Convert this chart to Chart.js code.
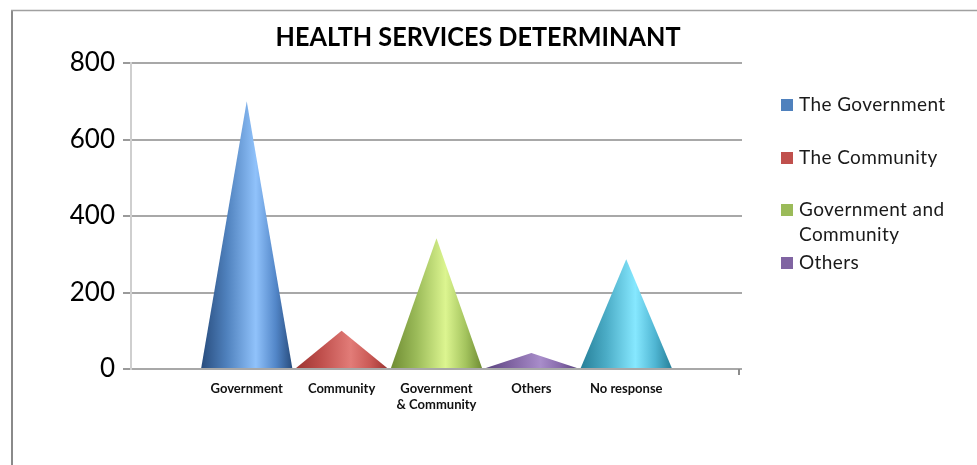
<!DOCTYPE html>
<html>
<head>
<meta charset="utf-8">
<script src="https://cdn.jsdelivr.net/npm/chart.js@4/dist/chart.umd.min.js"></script>
<style>
  html, body { margin: 0; padding: 0; background: #fff; }
  canvas { display: block; }
</style>
</head>
<body>
<canvas id="chart" width="977" height="465"></canvas>
<script>
// Who determines health services: number of respondents per answer
const chartTitle = 'HEALTH SERVICES DETERMINANT';
const categories = ['Government', 'Community', ['Government', '& Community'], 'Others', 'No response'];
const responses = [700, 100, 342, 42, 287];
const legendLabels = [['The Government'], ['The Community'], ['Government and', 'Community'], ['Others']];
const yTicks = [0, 200, 400, 600, 800];

// Cone shading per category: dark edge, body, highlight, right side
const coneShades = [
  ['#284c7d', '#4f81bd', '#90c2fb', '#5286c8'],
  ['#9c3431', '#c0504d', '#e27c78', '#c95854'],
  ['#6f8c33', '#9bbb59', '#dcf590', '#a4c45e'],
  ['#5a4480', '#8064a2', '#a88dca', '#8669aa'],
  ['#267f98', '#4bacc6', '#86e8ff', '#4fb5d2']
];
const legendColors = ['#4f81bd', '#c0504d', '#9bbb59', '#8064a2'];

const FONT = 'Lato, "Open Sans", sans-serif';

// Draws each bar as a shaded cone from its base to its value
const conePlugin = {
  id: 'cones',
  afterDatasetsDraw(chart) {
    const ctx = chart.ctx;
    const meta = chart.getDatasetMeta(0);
    meta.data.forEach((bar, i) => {
      const { x, y, base, width } = bar.getProps(['x', 'y', 'base', 'width'], true);
      const half = width / 2;
      const s = coneShades[i];
      const g = ctx.createLinearGradient(x - half, 0, x + half, 0);
      g.addColorStop(0, s[0]);
      g.addColorStop(0.28, s[1]);
      g.addColorStop(0.6, s[2]);
      g.addColorStop(0.82, s[3]);
      g.addColorStop(1, s[0]);
      ctx.save();
      ctx.fillStyle = g;
      ctx.beginPath();
      ctx.moveTo(x - half, base);
      ctx.lineTo(x, y);
      ctx.lineTo(x + half, base);
      ctx.closePath();
      ctx.fill();
      ctx.restore();
    });
  }
};

// Frame, title, floor tick and legend
const decorPlugin = {
  id: 'decor',
  beforeDraw(chart) {
    const ctx = chart.ctx;
    ctx.save();
    ctx.fillStyle = '#fff';
    ctx.fillRect(0, 0, chart.width, chart.height);
    ctx.strokeStyle = '#8a8a8a';
    ctx.lineWidth = 2;
    ctx.beginPath();
    ctx.moveTo(12, 10);
    ctx.lineTo(12, chart.height);
    ctx.stroke();
    ctx.strokeStyle = '#a0a0a0';
    ctx.lineWidth = 1.5;
    ctx.beginPath();
    ctx.moveTo(11, 10.5);
    ctx.lineTo(chart.width, 10.5);
    ctx.stroke();
    ctx.restore();
  },
  afterDraw(chart) {
    const ctx = chart.ctx;
    const area = chart.chartArea;
    ctx.save();
    // title
    ctx.fillStyle = '#000';
    ctx.font = 'bold 27px ' + FONT;
    ctx.textAlign = 'center';
    ctx.textBaseline = 'middle';
    ctx.fillText(chartTitle, 478, 37, 405);

    // small tick at the right end of the floor
    ctx.strokeStyle = '#8c8c8c';
    ctx.lineWidth = 2;
    ctx.beginPath();
    ctx.moveTo(area.right - 3, area.bottom);
    ctx.lineTo(area.right - 3, area.bottom + 6);
    ctx.stroke();

    // legend
    const rows = [105, 158, 210, 263];
    ctx.font = '19px ' + FONT;
    ctx.letterSpacing = '0.4px';
    ctx.textAlign = 'left';
    ctx.textBaseline = 'middle';
    legendLabels.forEach((lines, i) => {
      ctx.fillStyle = legendColors[i];
      ctx.fillRect(781, rows[i] - 6, 12, 12);
      ctx.fillStyle = '#1a1a1a';
      lines.forEach((t, j) => ctx.fillText(t, 799, rows[i] + j * 25));
    });
    ctx.restore();
  }
};

new Chart(document.getElementById('chart'), {
  type: 'bar',
  data: {
    datasets: [{
      data: responses.map((v, i) => ({ x: i, y: v })),
      backgroundColor: 'rgba(0,0,0,0)',
      borderWidth: 0,
      categoryPercentage: 1,
      barPercentage: 0.96
    }]
  },
  options: {
    responsive: false,
    animation: false,
    events: [],
    layout: { padding: { left: 0, right: 235, top: 63, bottom: 0 } },
    plugins: {
      legend: { display: false },
      title: { display: false },
      tooltip: { enabled: false }
    },
    scales: {
      x: {
        type: 'linear',
        offset: false,
        min: -1.22,
        max: 5.22,
        afterBuildTicks: s => { s.ticks = categories.map((_, i) => ({ value: i })); },
        afterFit: s => { s.height = 96; },
        grid: { display: false, drawTicks: false, offset: false },
        border: { display: false },
        ticks: {
          padding: 12,
          autoSkip: false,
          maxRotation: 0,
          color: '#111',
          font: { family: FONT, weight: 'bold', size: 13 },
          callback: v => categories[v]
        }
      },
      y: {
        min: 0,
        max: 800,
        afterBuildTicks: s => { s.ticks = yTicks.map(v => ({ value: v })); },
        afterFit: s => { s.width = 131; },
        grid: { color: '#a8a8a8', lineWidth: 2, tickLength: 8, tickColor: '#9a9a9a' },
        border: { color: '#cfcfcf', width: 2 },
        ticks: {
          padding: 8,
          color: '#000',
          font: { family: FONT, size: 26 }
        }
      }
    }
  },
  plugins: [decorPlugin, conePlugin]
});
</script>
</body>
</html>
